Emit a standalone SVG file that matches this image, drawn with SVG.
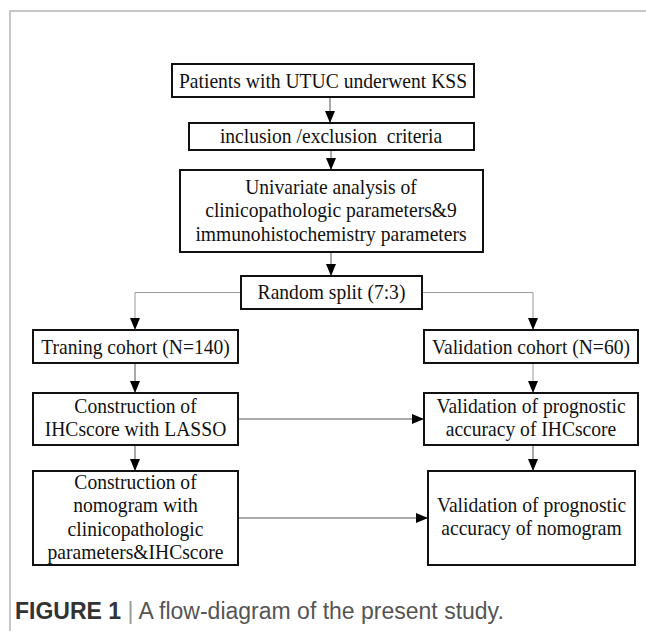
<svg xmlns="http://www.w3.org/2000/svg" width="646" height="631" viewBox="0 0 646 631">
<style>
.box{fill:#fff;stroke:#111;stroke-width:2}
.t{font-family:"Liberation Serif","Times New Roman",serif;font-size:22px;fill:#111;text-anchor:middle}
.c1{fill:none;stroke:#555;stroke-width:1}
.c3{fill:none;stroke:#999;stroke-width:1}
.c2{fill:none;stroke:#aaa;stroke-width:2}
.frame{stroke:#c8c8c8;stroke-width:2;fill:none}
.cap{font-family:"Liberation Sans",Arial,sans-serif;font-size:23px}
</style>
<defs>
<marker id="ah" markerUnits="userSpaceOnUse" markerWidth="12" markerHeight="10" refX="12" refY="5" orient="auto">
<path d="M0,0 L12,5 L0,10 z" fill="#000"/>
</marker>
</defs>
<rect width="646" height="631" fill="#fff"/>
<path class="frame" d="M10,631 V11 H646"/>
<g id="connectors">
<path class="c1" d="M330,97 V123" marker-end="url(#ah)"/>
<path class="c1" d="M331,150 V170" marker-end="url(#ah)"/>
<path class="c1" d="M331,252 V276" marker-end="url(#ah)"/>
<path class="c3" d="M241,292.5 H135 V330" marker-end="url(#ah)"/>
<path class="c3" d="M422,292.5 H533 V330" marker-end="url(#ah)"/>
<path class="c1" d="M135,363 V393" marker-end="url(#ah)"/>
<path class="c3" d="M533,363 V393" marker-end="url(#ah)"/>
<path class="c2" d="M238,419 H424" marker-end="url(#ah)"/>
<path class="c1" d="M135,445 V471" marker-end="url(#ah)"/>
<path class="c1" d="M533,445 V471" marker-end="url(#ah)"/>
<path class="c2" d="M238,518 H428" marker-end="url(#ah)"/>
</g>
<g id="n1"><rect class="box" x="172" y="64" width="302" height="33"/><text class="t" transform="translate(323 0) scale(0.89 1)" x="0" y="88">Patients with UTUC underwent KSS</text></g>
<g id="n2"><rect class="box" x="189" y="123" width="285" height="27"/><text class="t" transform="translate(331 0) scale(0.89 1)" x="0" y="143" xml:space="preserve">inclusion /exclusion  criteria</text></g>
<g id="n3"><rect class="box" x="180" y="170" width="303" height="82"/>
<g transform="translate(331 0) scale(0.89 1)"><text class="t" x="0" y="194">Univariate analysis of</text><text class="t" x="0" y="217.5">clinicopathologic parameters&amp;9</text><text class="t" x="0" y="241">immunohistochemistry parameters</text></g></g>
<g id="n4"><rect class="box" x="241" y="276" width="181" height="33"/><text class="t" transform="translate(331.5 0) scale(0.89 1)" x="0" y="299">Random split (7:3)</text></g>
<g id="n5"><rect class="box" x="33" y="330" width="205" height="33"/><text class="t" transform="translate(135.5 0) scale(0.89 1)" x="0" y="354">Traning cohort (N=140)</text></g>
<g id="n6"><rect class="box" x="424" y="330" width="214" height="33"/><text class="t" transform="translate(531 0) scale(0.89 1)" x="0" y="354">Validation cohort (N=60)</text></g>
<g id="n7"><rect class="box" x="33" y="393" width="205" height="52"/>
<g transform="translate(135.5 0) scale(0.89 1)"><text class="t" x="0" y="413.5">Construction of</text><text class="t" x="0" y="436.5">IHCscore with LASSO</text></g></g>
<g id="n8"><rect class="box" x="424" y="393" width="214" height="52"/>
<g transform="translate(531 0) scale(0.89 1)"><text class="t" x="0" y="413.5">Validation of prognostic</text><text class="t" x="0" y="436.5">accuracy of IHCscore</text></g></g>
<g id="n9"><rect class="box" x="33" y="471" width="205" height="94"/>
<g transform="translate(135.5 0) scale(0.89 1)"><text class="t" x="0" y="489">Construction of</text><text class="t" x="0" y="512.3">nomogram with</text><text class="t" x="0" y="535.6">clinicopathologic</text><text class="t" x="0" y="558.9">parameters&amp;IHCscore</text></g></g>
<g id="n10"><rect class="box" x="428" y="471" width="207" height="94"/>
<g transform="translate(531.5 0) scale(0.89 1)"><text class="t" x="0" y="512.2">Validation of prognostic</text><text class="t" x="0" y="535.5">accuracy of nomogram</text></g></g>
<text class="cap" x="15" y="619"><tspan font-weight="bold" fill="#333">FIGURE 1</tspan><tspan fill="#999"> | </tspan><tspan fill="#555">A flow-diagram of the present study.</tspan></text>
</svg>
